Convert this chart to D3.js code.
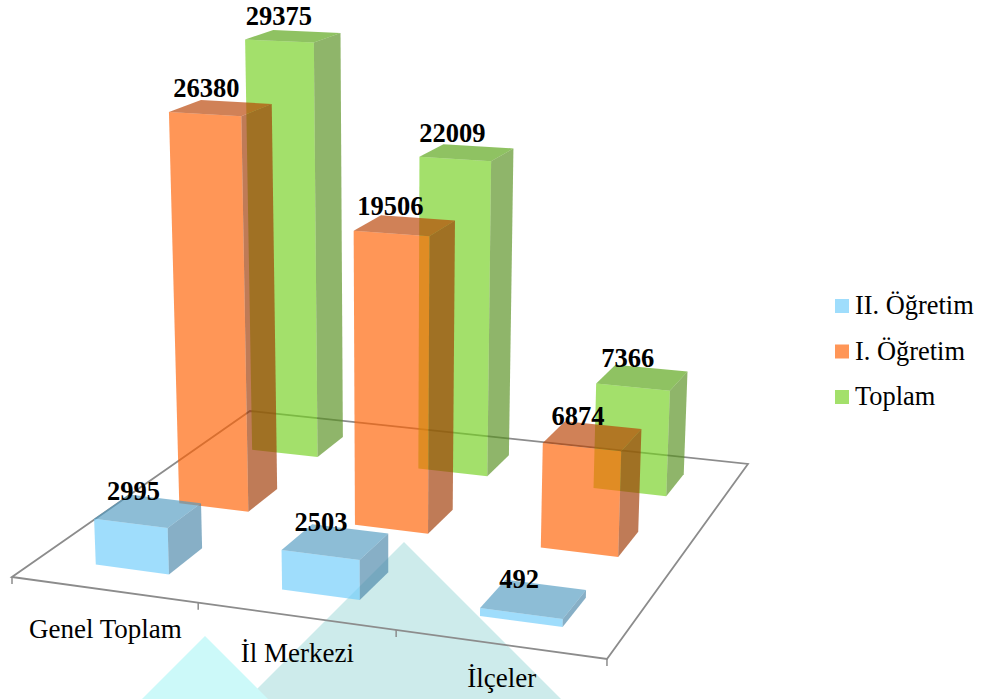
<!DOCTYPE html>
<html>
<head>
<meta charset="utf-8">
<script src="https://cdn.jsdelivr.net/npm/d3@7"></script>
<style>
  html, body { margin: 0; padding: 0; background: #fff; }
  svg { display: block; }
  text { font-family: "Liberation Serif", serif; fill: #000; }
</style>
</head>
<body>
<script>
// Values. Series run front to back.
const categories = ["Genel Toplam", "İl Merkezi", "İlçeler"];
const seriesNames = ["II. Öğretim", "I. Öğretim", "Toplam"];
const ikinciOgretim = [2995, 2503, 492];
const birinciOgretim = [26380, 19506, 6874];
const toplam = [29375, 22009, 7366];
const seriesValues = [ikinciOgretim, birinciOgretim, toplam];

// Base colours for the front, side and top faces, drawn see through.
const frontColors = ["#6ecbfa", "#ff6000", "#74d01f"];
const sideColors = ["#4986a9", "#9e3700", "#558f1d"];
const topColors = ["#529bc1", "#b83f00", "#55a310"];
const faceOpacity = 0.66;

const width = 983;
const height = 699;

const svg = d3.select("body").append("svg")
  .attr("width", width)
  .attr("height", height);

// Triangles of the slide background, they sit behind the chart.
const backdrop = [
  { color: "#cdebeb", points: [[404, 542], [247, 699], [561, 699]] },
  { color: "#ccf9f9", points: [[205, 636], [142, 699], [268, 699]] }
];
svg.selectAll("polygon.backdrop")
  .data(backdrop)
  .enter()
  .append("polygon")
  .attr("class", "backdrop")
  .attr("points", d => d.points.join(" "))
  .attr("fill", d => d.color);

// Floor of the chart is the unit square, u along categories, v in depth.
const uScale = d3.scaleBand().domain(categories).range([0.003, 1.003])
  .paddingInner(0.6).paddingOuter(0.3);
const vScale = d3.scaleBand().domain(seriesNames).range([0, 1])
  .paddingInner(0.6).paddingOuter(0.3);
const zScale = d3.scaleLinear().domain([0, 30000]).range([0, 463]);

// Perspective: homography of the floor and a vanishing point for the uprights.
const vanish = [390, 8500];
// Tall bars come closer to the camera, so they stretch a little.
const stretch = 1.6e-6;

function floorPoint(u, v) {
  const w = -0.0889 * u + 0.22 * v + 1;
  return {
    x: (541 * u + 293 * v + 12) / w,
    y: (23.4 * u - 75.6 * v + 577) / w,
    w: w
  };
}

function project(u, v, value) {
  const p = floorPoint(u, v);
  const h = zScale(value) / p.w / (1 - stretch * value);
  const dx = p.x - vanish[0];
  const dy = p.y - vanish[1];
  const len = Math.sqrt(dx * dx + dy * dy);
  return [p.x + dx / len * h, p.y + dy / len * h];
}

const line = d3.line();

// Floor outline.
svg.append("path")
  .attr("d", line([[0, 0], [1, 0], [1, 1], [0, 1]].map(c => project(c[0], c[1], 0))) + "Z")
  .attr("fill", "none")
  .attr("stroke", "#8c8c8c")
  .attr("stroke-width", 1.8);

// Ticks along the front edge.
const tickSteps = d3.range(0, categories.length + 1).map(i => i / categories.length);
svg.selectAll("path.tick")
  .data(tickSteps)
  .enter()
  .append("path")
  .attr("class", "tick")
  .attr("d", d => {
    const p = project(d, 0, 0);
    return line([p, [p[0], p[1] + 7]]);
  })
  .attr("stroke", "#8c8c8c")
  .attr("stroke-width", 1.5);

// One record per bar, back row first so the front rows paint over it.
const bars = [];
seriesNames.forEach((name, s) => {
  categories.forEach((cat, c) => {
    const u0 = uScale(cat);
    const u1 = u0 + uScale.bandwidth();
    const v0 = vScale(name);
    const v1 = v0 + vScale.bandwidth();
    bars.push({ s: s, value: seriesValues[s][c], u0: u0, u1: u1, v0: v0, v1: v1 });
  });
});
bars.sort((a, b) => b.s - a.s);

const barGroups = svg.selectAll("g.bar")
  .data(bars)
  .enter()
  .append("g")
  .attr("class", "bar")
  .attr("fill-opacity", faceOpacity);

barGroups.append("path")
  .attr("d", d => line([
    project(d.u0, d.v0, 0), project(d.u1, d.v0, 0),
    project(d.u1, d.v0, d.value), project(d.u0, d.v0, d.value)
  ]) + "Z")
  .attr("fill", d => frontColors[d.s]);

barGroups.append("path")
  .attr("d", d => line([
    project(d.u1, d.v0, 0), project(d.u1, d.v1, 0),
    project(d.u1, d.v1, d.value), project(d.u1, d.v0, d.value)
  ]) + "Z")
  .attr("fill", d => sideColors[d.s]);

barGroups.append("path")
  .attr("d", d => line([
    project(d.u0, d.v0, d.value), project(d.u1, d.v0, d.value),
    project(d.u1, d.v1, d.value), project(d.u0, d.v1, d.value)
  ]) + "Z")
  .attr("fill", d => topColors[d.s]);

// Value labels, placed from the centre of the top face.
svg.selectAll("text.value")
  .data(bars)
  .enter()
  .append("text")
  .attr("class", "value")
  .attr("x", d => {
    const a = project(d.u0, d.v0, d.value);
    const b = project(d.u1, d.v1, d.value);
    return (a[0] + b[0]) / 2 - 14;
  })
  .attr("y", d => {
    const a = project(d.u0, d.v0, d.value);
    const b = project(d.u1, d.v1, d.value);
    return (a[1] + b[1]) / 2 - 11;
  })
  .attr("text-anchor", "middle")
  .attr("font-size", 26.5)
  .attr("font-weight", "bold")
  .text(d => d.value);

// Category labels under the front edge, the drop shrinks to the right.
const labelDrop = d3.scaleLinear().domain([1 / 6, 5 / 6]).range([48, 43]);

svg.selectAll("text.category")
  .data(categories)
  .enter()
  .append("text")
  .attr("class", "category")
  .attr("x", d => project(uScale(d) + uScale.bandwidth() / 2, 0, 0)[0])
  .attr("y", d => {
    const u = uScale(d) + uScale.bandwidth() / 2;
    return project(u, 0, 0)[1] + labelDrop(u);
  })
  .attr("text-anchor", "middle")
  .attr("font-size", 27)
  .text(d => d);

// Legend.
const legendY = d3.scalePoint().domain(seriesNames).range([299, 390]);

const legend = svg.selectAll("g.legend")
  .data(seriesNames)
  .enter()
  .append("g")
  .attr("class", "legend")
  .attr("transform", d => "translate(835," + legendY(d) + ")");

legend.append("rect")
  .attr("width", 14)
  .attr("height", 14)
  .attr("fill", (d, i) => frontColors[i])
  .attr("fill-opacity", faceOpacity);

legend.append("text")
  .attr("x", 20)
  .attr("y", 15)
  .attr("font-size", 26.4)
  .text(d => d);
</script>
</body>
</html>
